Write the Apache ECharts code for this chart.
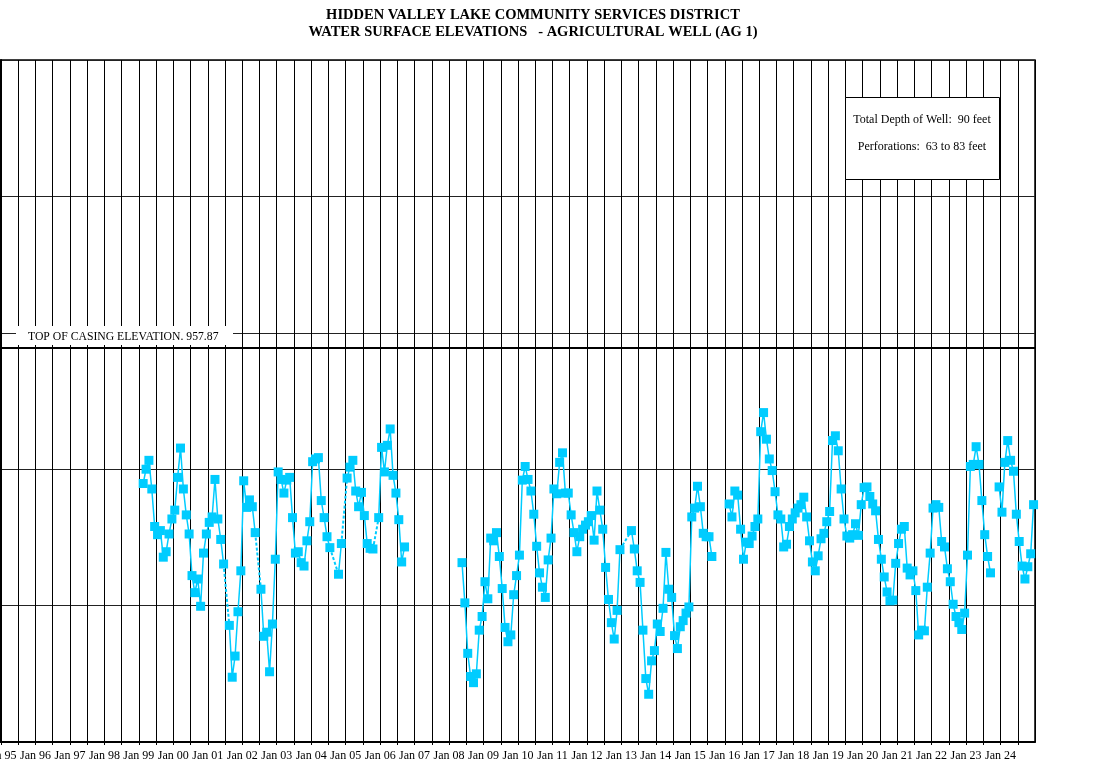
<!DOCTYPE html>
<html>
<head>
<meta charset="utf-8">
<script src="https://cdn.jsdelivr.net/npm/echarts@6/dist/echarts.min.js"></script>
<style>html,body{margin:0;padding:0;background:#fff}#chart{width:1110px;height:767px}</style>
</head>
<body>
<div id="chart"></div>
<script>
// ---- DATA ----
const titleLines = ['HIDDEN VALLEY LAKE COMMUNITY SERVICES DISTRICT', 'WATER SURFACE ELEVATIONS   - AGRICULTURAL WELL (AG 1)'];
const yearLabels = ['Jan 95','Jan 96','Jan 97','Jan 98','Jan 99','Jan 00','Jan 01','Jan 02','Jan 03','Jan 04','Jan 05','Jan 06','Jan 07','Jan 08','Jan 09','Jan 10','Jan 11','Jan 12','Jan 13','Jan 14','Jan 15','Jan 16','Jan 17','Jan 18','Jan 19','Jan 20','Jan 21','Jan 22','Jan 23','Jan 24'];
const axisStartYear = 1995;
const axisEndYear = 2025;
const casingElevation = 957.87;
const casingLabel = 'TOP OF CASING ELEVATION. 957.87';
const wellNotes = ['Total Depth of Well:  90 feet', 'Perforations:  63 to 83 feet'];
// monthly water surface elevations (ft), Jan..Dec, starting 1999
const firstYear = 1999;
const levels = [
  null, 937.9, 940.0, 941.3, 937.1, 931.6, 930.4, 931.0, 927.1, 927.9, 930.5, 932.7, // 1999
  934.0, 938.8, 943.1, 937.1, 933.3, 930.5, 924.4, 921.9, 923.9, 919.9, 927.7, 930.5, // 2000
  932.2, 933.0, 938.5, 932.7, 929.7, 926.1, null, 917.1, 909.5, 912.6, 919.1, 925.1,  // 2001
  938.3, 934.4, 935.5, 934.5, 930.7, null, 922.4, 915.5, 916.1, 910.3, 917.3, 926.8,  // 2002
  939.6, 938.5, 936.5, 938.4, 938.8, 932.9, 927.7, 927.9, 926.3, 925.8, 929.5, 932.3, // 2003
  941.1, 941.5, 941.7, 935.4, 932.9, 930.1, 928.5, null, null, 924.6, 929.1, null,    // 2004
  938.7, 940.3, 941.3, 936.8, 934.5, 936.6, 933.2, 929.1, 928.4, 928.3, null, 932.9,  // 2005
  943.2, 939.6, 943.5, 945.9, 939.1, 936.5, 932.6, 926.4, 928.6, null, null, null,    // 2006
  null, null, null, null, null, null, null, null, null, null, null, null,             // 2007
  null, null, null, null, 926.3, 920.4, 913.0, 909.6, 908.7, 910.0, 916.4, 918.4,     // 2008
  923.5, 921.0, 929.9, 929.5, 930.7, 927.2, 922.5, 916.8, 914.7, 915.7, 921.6, 924.4, // 2009
  927.4, 938.4, 940.4, 938.5, 936.8, 933.4, 928.7, 924.8, 922.7, 921.2, 926.7, 929.9, // 2010
  937.1, 936.4, 941.0, 942.4, 936.5, 936.5, 933.3, 930.7, 927.9, 930.1, 931.2, 931.8, // 2011
  932.3, 933.2, 929.6, 936.8, 934.0, 931.2, 925.6, 920.9, 917.5, 915.1, 919.3, 928.2, // 2012
  null, null, null, 931.0, 928.3, 925.1, 923.4, 916.4, 909.3, 907.0, 911.9, 913.4,    // 2013
  917.3, 916.2, 919.6, 927.8, 922.4, 921.2, 915.6, 913.7, 916.9, 917.8, 918.9, 919.8, // 2014
  933.0, 934.3, 937.5, 934.5, 930.6, 930.1, 930.1, 927.2, null, null, null, null,     // 2015
  null, 934.9, 933.0, 936.8, 936.2, 931.2, 926.8, 929.3, 929.1, 930.2, 931.6, 932.7,  // 2016
  945.5, 948.3, 944.4, 941.5, 939.8, 936.7, 933.3, 932.7, 928.6, 929.0, 931.6, 932.7, // 2017
  933.6, 934.3, 934.8, 935.9, 933.0, 929.5, 926.4, 925.1, 927.3, 929.8, 930.6, 932.3, // 2018
  933.8, 944.2, 944.9, 942.7, 937.1, 932.7, 930.2, 929.9, 930.4, 932.0, 930.3, 934.8, // 2019
  937.3, 937.4, 936.0, 934.9, 933.9, 929.7, 926.8, 924.2, 922.0, 920.7, 920.8, 926.2, // 2020
  929.1, 931.2, 931.6, 925.5, 924.5, 925.1, 922.2, 915.7, 916.4, 916.3, 922.7, 927.7, // 2021
  934.3, 934.8, 934.4, 929.4, 928.6, 925.4, 923.5, 920.2, 918.4, 917.5, 916.5, 918.9, // 2022
  927.4, 940.4, 940.7, 943.3, 940.7, 935.4, 930.4, 927.2, 924.8, null, null, 937.4,   // 2023
  933.7, 941.0, 944.2, 941.3, 939.7, 933.4, 929.4, 925.8, 923.9, 925.7, 927.6, 934.8  // 2024
];
// missing months that the original bridges with a dashed line (first missing month of each gap)
const bridgedGaps = ['2001-07', '2002-06', '2004-08', '2004-12', '2005-11', '2013-01'];

// ---- BUILD ----
const FONT = 'Liberation Serif';
const CYAN = '#00CCFF';
function xOf(i) { return firstYear + Math.floor(i / 12) + ((i % 12) + 0.5) / 12; }
const mainData = levels.map((v, i) => [xOf(i), v]);
const bridgeSeries = bridgedGaps.map(g => {
  const [yy, mm] = g.split('-').map(Number);
  const gi = (yy - firstYear) * 12 + (mm - 1);
  let p = gi - 1; while (p >= 0 && levels[p] == null) p--;
  let n = gi; while (n < levels.length && levels[n] == null) n++;
  return {
    type: 'line', data: [[xOf(p), levels[p]], [xOf(n), levels[n]]],
    showSymbol: false, symbol: 'none', silent: true, z: 1,
    lineStyle: { color: CYAN, width: 2, type: [3, 2] }
  };
});

const chart = echarts.init(document.getElementById('chart'), null, { renderer: 'canvas' });
chart.setOption({
  animation: false,
  backgroundColor: '#fff',
  title: {
    text: titleLines.join('\n'),
    left: 528, top: 2, textAlign: 'center',
    textStyle: { fontFamily: FONT, fontSize: 14.5, fontWeight: 'bold', color: '#000', lineHeight: 17 }
  },
  grid: { left: 1, right: 75, top: 60, bottom: 25, containLabel: false, outerBoundsMode: 'none', show: true, borderColor: '#000', borderWidth: 1.5, backgroundColor: 'transparent' },
  xAxis: {
    type: 'value', min: axisStartYear, max: axisEndYear, interval: 0.5,
    axisLine: { show: true, lineStyle: { color: '#000', width: 2 } },
    axisTick: { show: true, length: 3, lineStyle: { color: '#000' } },
    splitLine: { show: true, lineStyle: { color: '#000', width: 1 } },
    axisLabel: {
      showMinLabel: true, showMaxLabel: false, hideOverlap: false,
      fontFamily: FONT, fontSize: 12, color: '#000', margin: 8,
      formatter: v => {
        const k = v - axisStartYear;
        return (Number.isInteger(k) && k >= 0 && k < yearLabels.length) ? yearLabels[k] : '';
      }
    }
  },
  yAxis: {
    type: 'value', min: 900, max: 1000, interval: 20,
    axisLine: { show: true, lineStyle: { color: '#000', width: 2 } },
    axisTick: { show: false },
    axisLabel: { show: false },
    splitLine: { show: true, lineStyle: { color: '#222', width: 1 } }
  },
  series: [
    {
      type: 'line', data: mainData, connectNulls: false,
      symbol: 'rect', symbolSize: 9, showAllSymbol: true, z: 3,
      itemStyle: { color: CYAN },
      lineStyle: { color: CYAN, width: 1.5 },
      markLine: {
        silent: true, symbol: 'none', animation: false,
        label: { show: false },
        lineStyle: { color: '#000', width: 2, type: 'solid' },
        data: [{ yAxis: casingElevation }]
      }
    },
    ...bridgeSeries
  ],
  graphic: [
    { type: 'rect', z: 100, shape: { x: 16, y: 326, width: 217, height: 19 }, style: { fill: '#fff' } },
    { type: 'text', z: 101, x: 28, y: 337, style: { text: casingLabel, font: '11.7px ' + FONT, fill: '#000', verticalAlign: 'middle', textAlign: 'left' } },
    { type: 'rect', z: 100, shape: { x: 845.5, y: 97.5, width: 154, height: 82 }, style: { fill: '#fff', stroke: '#000', lineWidth: 1 } },
    { type: 'text', z: 101, x: 922, y: 120, style: { text: wellNotes[0], font: '12px ' + FONT, fill: '#000', verticalAlign: 'middle', textAlign: 'center' } },
    { type: 'text', z: 101, x: 922, y: 147, style: { text: wellNotes[1], font: '12px ' + FONT, fill: '#000', verticalAlign: 'middle', textAlign: 'center' } }
  ]
});
</script>
</body>
</html>
